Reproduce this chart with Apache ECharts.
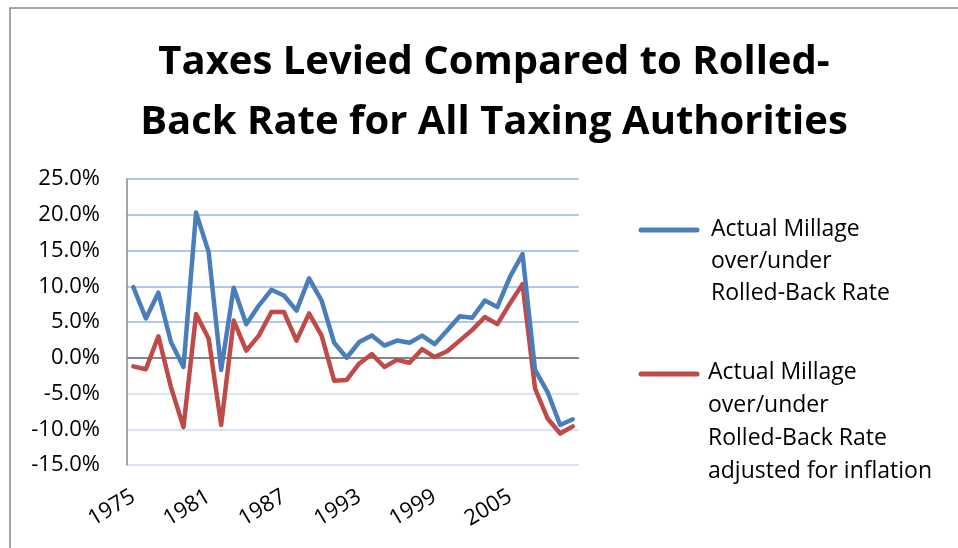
<!DOCTYPE html>
<html>
<head>
<meta charset="utf-8">
<script src="https://cdn.jsdelivr.net/npm/echarts@6/dist/echarts.min.js"></script>
<style>
html,body{margin:0;padding:0;background:#fff;}
#chart{width:958px;height:548px;}
</style>
</head>
<body>
<div id="chart"></div>
<script>
const years = [];
for (let y = 1975; y <= 2010; y++) years.push(String(y));

const actualMillage = [9.9, 5.5, 9.1, 2.2, -1.3, 20.3, 14.8, -1.7, 9.8, 4.7, 7.3, 9.5, 8.7, 6.6, 11.1, 8.0, 2.1, 0.0, 2.2, 3.1, 1.7, 2.4, 2.1, 3.1, 1.9, 3.8, 5.8, 5.6, 8.0, 7.1, 11.3, 14.5, -1.7, -4.8, -9.4, -8.6];
const adjustedInflation = [-1.2, -1.6, 3.0, -4.1, -9.7, 6.1, 2.7, -9.4, 5.2, 1.0, 3.1, 6.4, 6.4, 2.4, 6.2, 3.1, -3.2, -3.1, -0.8, 0.5, -1.3, -0.3, -0.7, 1.2, 0.1, 0.9, 2.4, 3.9, 5.7, 4.7, 7.6, 10.3, -4.3, -8.5, -10.6, -9.6];

const titleText = 'Taxes Levied Compared to Rolled-\nBack Rate for All Taxing Authorities';
const seriesNames = ['Actual Millage\nover/under\nRolled-Back Rate', 'Actual Millage\nover/under\nRolled-Back Rate\nadjusted for inflation'];

const FONT = '"Open Sans", "Liberation Sans", sans-serif';
const BLUE = '#4a7ebb', RED = '#be4b48';
const chart = echarts.init(document.getElementById('chart'));
chart.setOption({
  animation: false,
  backgroundColor: '#fff',
  title: {
    text: titleText,
    left: 489,
    top: 28,
    textAlign: 'center',
    textStyle: { fontFamily: FONT, fontWeight: 'bold', fontSize: 40, lineHeight: 60, color: '#000' }
  },
  grid: { left: 127, right: 379, top: 179, bottom: 83, containLabel: false },
  xAxis: {
    type: 'category',
    data: years,
    boundaryGap: true,
    axisLine: { show: false },
    axisTick: { show: false },
    axisLabel: { interval: 5, rotate: 31, margin: 30, fontFamily: FONT, fontSize: 22, color: '#000' },
    splitLine: { show: false }
  },
  yAxis: {
    type: 'value',
    min: -15, max: 25, interval: 5,
    axisLine: { show: true, lineStyle: { color: '#868686', width: 1.5 } },
    axisTick: { show: false },
    axisLabel: { margin: 27, fontFamily: FONT, fontSize: 22, color: '#000', formatter: v => v.toFixed(1) + '%' },
    splitLine: { show: true, lineStyle: { width: 2, color: ['#dae3f3', '#dae3f3', '#dae3f3', '#868686', '#b3c8e8', '#b3c8e8', '#b3c8e8', '#b3c8e8', '#b3c8e8'] } }
  },
  series: [
    { name: seriesNames[0], type: 'line', data: actualMillage, symbol: 'none', z: 3,
      lineStyle: { color: BLUE, width: 4.5, cap: 'round', join: 'round' }, itemStyle: { color: BLUE } },
    { name: seriesNames[1], type: 'line', data: adjustedInflation, symbol: 'none', z: 2,
      lineStyle: { color: RED, width: 4.5, cap: 'round', join: 'round' }, itemStyle: { color: RED } }
  ],
  graphic: [
    { type: 'rect', shape: { x: 10, y: 8, width: 1000, height: 600 }, style: { fill: 'none', stroke: '#888', lineWidth: 1.5 }, silent: true, z: -1 },
    { type: 'line', shape: { x1: 641, y1: 230, x2: 697, y2: 230 }, style: { stroke: BLUE, lineWidth: 5, lineCap: 'round' } },
    { type: 'text', left: 711, top: 213, style: { text: seriesNames[0], font: '23px ' + FONT, lineHeight: 32, fill: '#000' } },
    { type: 'line', shape: { x1: 641, y1: 374, x2: 697, y2: 374 }, style: { stroke: RED, lineWidth: 5, lineCap: 'round' } },
    { type: 'text', left: 708, top: 356, style: { text: seriesNames[1], font: '23px ' + FONT, lineHeight: 33, fill: '#000' } }
  ]
});
</script>
</body>
</html>
